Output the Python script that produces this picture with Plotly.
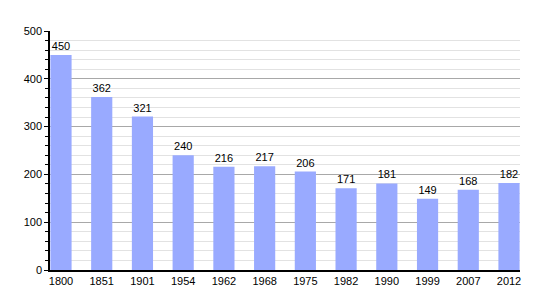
import plotly.graph_objects as go

years = ["1800", "1851", "1901", "1954", "1962", "1968", "1975", "1982", "1990", "1999", "2007", "2012"]
population = [450, 362, 321, 240, 216, 217, 206, 171, 181, 149, 168, 182]

fig = go.Figure()
fig.add_trace(go.Bar(
    x=years, y=population,
    marker=dict(color="#99aaff", line=dict(width=0)),
    width=0.52,
    text=[str(v) for v in population],
    textposition="outside",
    textfont=dict(family="Liberation Sans, Arial", size=11, color="#000000"),
    cliponaxis=False,
))
fig.update_layout(
    width=550, height=300,
    margin=dict(l=50, r=30, t=31, b=30),
    paper_bgcolor="white", plot_bgcolor="white",
    showlegend=False,
    font=dict(family="Liberation Sans, Arial", size=11, color="#000000"),
)
fig.update_xaxes(
    type="category", showline=True, linecolor="black", linewidth=2,
    showgrid=False, ticks="", tickfont=dict(size=11),
    range=[-0.27, 11.27],
)
fig.update_yaxes(
    range=[0, 500], dtick=100, showline=True, linecolor="black", linewidth=1.5,
    showgrid=True, gridcolor="#a8a8a8", gridwidth=1,
    ticks="outside", ticklen=4, tickcolor="black",
    minor=dict(dtick=20, showgrid=True, gridcolor="#e2e2e2", ticks="outside", ticklen=3, tickcolor="black"),
    zeroline=False, tickfont=dict(size=11),
)
fig.write_html("out.html")
